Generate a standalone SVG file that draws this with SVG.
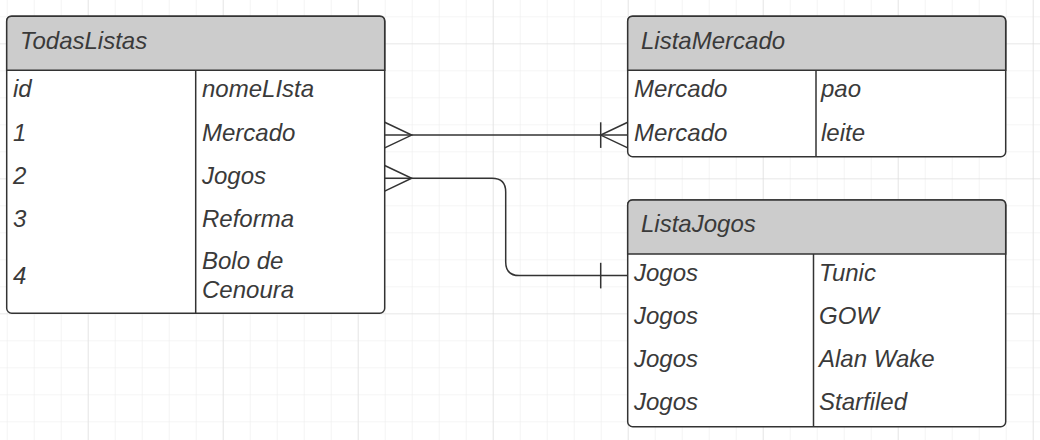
<svg xmlns="http://www.w3.org/2000/svg" width="1040" height="440" viewBox="0 0 1040 440">
<defs>
<pattern id="minor" x="6.7" y="16.3" width="27" height="27" patternUnits="userSpaceOnUse">
<path d="M0 0H27M0 0V27" fill="none" stroke="#ececec" stroke-width="1.2"/>
</pattern>
<pattern id="major" x="87.7" y="43.3" width="135" height="135" patternUnits="userSpaceOnUse">
<path d="M0 0H135M0 0V135" fill="none" stroke="#dddddd" stroke-width="1.2"/>
</pattern>
</defs>
<style>
.box{fill:#ffffff;stroke:#333333;stroke-width:1.5}
.head{fill:#cccccc;stroke:#333333;stroke-width:1.5}
.ln{fill:none;stroke:#333333;stroke-width:1.5}
text{font-family:"Liberation Sans",Arial,sans-serif;font-style:italic;font-size:24px;fill:#3a3a3a}
</style>
<rect width="1040" height="440" fill="#ffffff"/>
<rect width="1040" height="440" fill="url(#minor)"/>
<rect width="1040" height="440" fill="url(#major)"/>

<g id="connectors">
<path class="ln" d="M384.7 135.1H627.7"/>
<path class="ln" d="M384.7 122.3L411.7 135.1L384.7 147.9"/>
<path class="ln" d="M627.7 122.3L600.7 135.1L627.7 147.9"/>
<path class="ln" d="M600.7 122.3V147.9"/>
<path class="ln" d="M384.7 178.3H492Q505.7 178.3 505.7 192V262Q505.7 275.6 519.4 275.6H627.7"/>
<path class="ln" d="M384.7 165.5L411.7 178.3L384.7 191.1"/>
<path class="ln" d="M600.7 262.8V288.4"/>
</g>

<g id="TodasListas">
<rect class="box" x="6.7" y="16.3" width="378" height="297" rx="5"/>
<path class="head" d="M6.7 70.3V21.3Q6.7 16.3 11.7 16.3H379.7Q384.7 16.3 384.7 21.3V70.3Z"/>
<path class="ln" d="M195.7 70.3V313.3"/>
<text x="20" y="49">TodasListas</text>
<text x="13" y="97.3">id</text>
<text x="202" y="97.3">nomeLIsta</text>
<text x="13" y="140.5">1</text>
<text x="202" y="140.5">Mercado</text>
<text x="13" y="183.7">2</text>
<text x="202" y="183.7">Jogos</text>
<text x="13" y="226.9">3</text>
<text x="202" y="226.9">Reforma</text>
<text x="13" y="284">4</text>
<text x="202" y="269.3">Bolo de</text>
<text x="202" y="298.3">Cenoura</text>
</g>

<g id="ListaMercado">
<rect class="box" x="627.7" y="16.3" width="378" height="140.4" rx="5"/>
<path class="head" d="M627.7 70.3V21.3Q627.7 16.3 632.7 16.3H1000.7Q1005.7 16.3 1005.7 21.3V70.3Z"/>
<path class="ln" d="M816 70.3V156.7"/>
<text x="641" y="48.5">ListaMercado</text>
<text x="634" y="97.3">Mercado</text>
<text x="821" y="97.3">pao</text>
<text x="634" y="140.5">Mercado</text>
<text x="821" y="140.5">leite</text>
</g>

<g id="ListaJogos">
<rect class="box" x="627.7" y="200" width="378" height="226.8" rx="5"/>
<path class="head" d="M627.7 254V205Q627.7 200 632.7 200H1000.7Q1005.7 200 1005.7 205V254Z"/>
<path class="ln" d="M813.5 254V426.8"/>
<text x="641" y="231.7">ListaJogos</text>
<text x="634" y="280.7">Jogos</text>
<text x="819" y="280.7">Tunic</text>
<text x="634" y="323.6">Jogos</text>
<text x="819" y="323.6">GOW</text>
<text x="634" y="366.6">Jogos</text>
<text x="819" y="366.6">Alan Wake</text>
<text x="634" y="410">Jogos</text>
<text x="819" y="410">Starfiled</text>
</g>
</svg>
